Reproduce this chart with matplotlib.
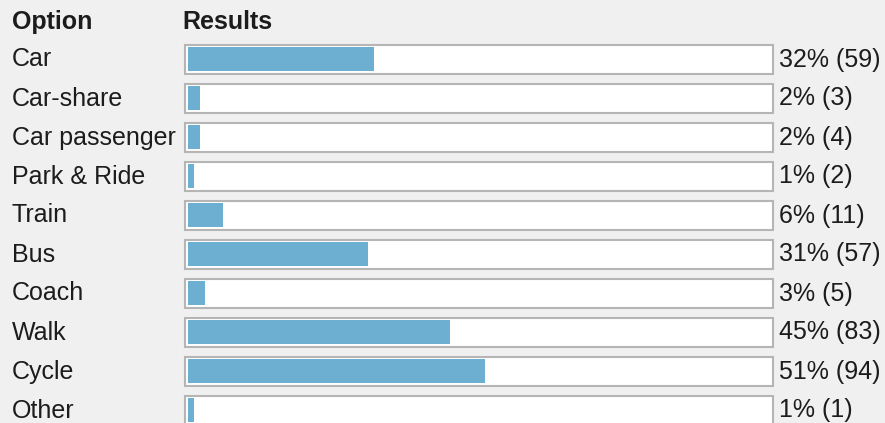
import matplotlib.pyplot as plt
import matplotlib.transforms as mtrans

options = ["Car", "Car-share", "Car passenger", "Park & Ride", "Train",
           "Bus", "Coach", "Walk", "Cycle", "Other"]
percents = [32, 2, 2, 1, 6, 31, 3, 45, 51, 1]
counts = [59, 3, 4, 2, 11, 57, 5, 83, 94, 1]

W, H = 885, 423
plt.rcParams['font.family'] = ['Liberation Sans', 'DejaVu Sans']
fig = plt.figure(figsize=(W / 100, H / 100), dpi=100, facecolor="#f0f0f0")

# axes spans the inner bar track (px 188..770), full height
left, right = 188, 770
pitch = 39.0
first = 59.5
ax = fig.add_axes([left / W, 0, (right - left) / W, 1])
ax.set_facecolor("none")
ax.set_xlim(0, 100)
ax.set_ylim((H - first) / pitch, -first / pitch)
ax.axis("off")

px = 100 / (right - left)
ys = list(range(len(options)))
pad = 3 * px
boxes = ax.barh(ys, [100 + 2 * pad] * len(ys), left=-pad, height=29 / pitch,
                color="white", edgecolor="#b5b5b5", linewidth=1.5, zorder=1)
for b in boxes:
    b.set_clip_on(False)
ax.barh(ys, percents, height=24 / pitch, color="#6cafd0", zorder=2)

tc = "#1c1c1c"
fs = 18
yt = mtrans.blended_transform_factory(fig.transFigure, ax.transData)
for y, name, p, c in zip(ys, options, percents, counts):
    ax.text(12 / W, y, name, transform=yt, fontsize=fs, color=tc,
            va="center", ha="left")
    ax.text(779 / W, y, f"{p}% ({c})", transform=yt, fontsize=fs,
            color=tc, va="center", ha="left")

fig.text(12 / W, 1 - 22 / H, "Option", fontsize=fs, fontweight="bold",
         color=tc, va="center", ha="left")
fig.text(182 / W, 1 - 22 / H, "Results", fontsize=fs, fontweight="bold",
         color=tc, va="center", ha="left")

fig.savefig("out.png", dpi=100, facecolor=fig.get_facecolor())
